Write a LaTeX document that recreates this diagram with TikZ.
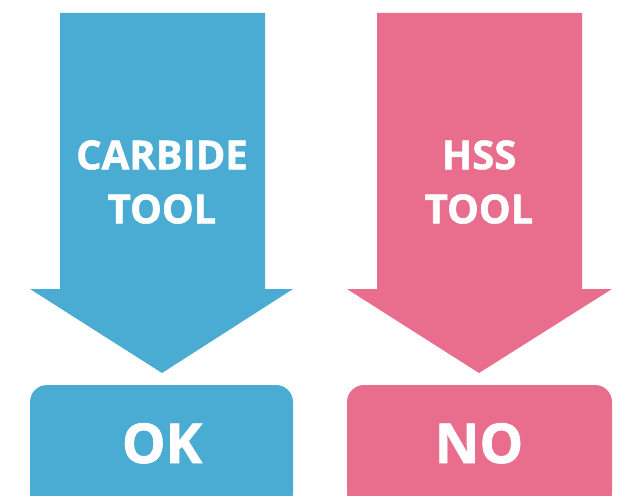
\documentclass[tikz,border=0pt]{standalone}
\usepackage{fontspec}
\setmainfont{Open Sans}[BoldFeatures={FakeBold=1.3}]
\begin{document}
\begin{tikzpicture}[x=1pt,y=-1pt,
  bluefill/.style={fill=carbideblue,draw=none},
  redfill/.style={fill=hssred,draw=none},
  arrowtext/.style={text=white,font=\bfseries\fontsize{40}{54}\selectfont,align=center},
  boxtext/.style={text=white,font=\bfseries\fontsize{55}{60}\selectfont}]
\definecolor{carbideblue}{HTML}{4BACD3}
\definecolor{hssred}{HTML}{E96E8D}
\useasboundingbox (0,0) rectangle (620,495);
\clip (0,0) rectangle (620,495);
% blue arrow
\fill[bluefill] (60,13) -- (265,13) -- (265,289) -- (293,289) -- (162,373) -- (30,289) -- (60,289) -- cycle;
\node[arrowtext] (carbide) at (162,182) {CARBIDE\\TOOL};
\fill[bluefill,rounded corners=17pt] (30,385) rectangle (293,510);
\node[boxtext,anchor=base] (ok) at (162,463) {OK};
% red arrow
\fill[redfill] (377,13) -- (582,13) -- (582,289) -- (612,289) -- (479,373) -- (347,289) -- (377,289) -- cycle;
\node[arrowtext] (hss) at (479,182) {HSS\\TOOL};
\fill[redfill,rounded corners=17pt] (347,385) rectangle (612,510);
\node[boxtext,anchor=base] (no) at (479,463) {NO};
\end{tikzpicture}
\end{document}
